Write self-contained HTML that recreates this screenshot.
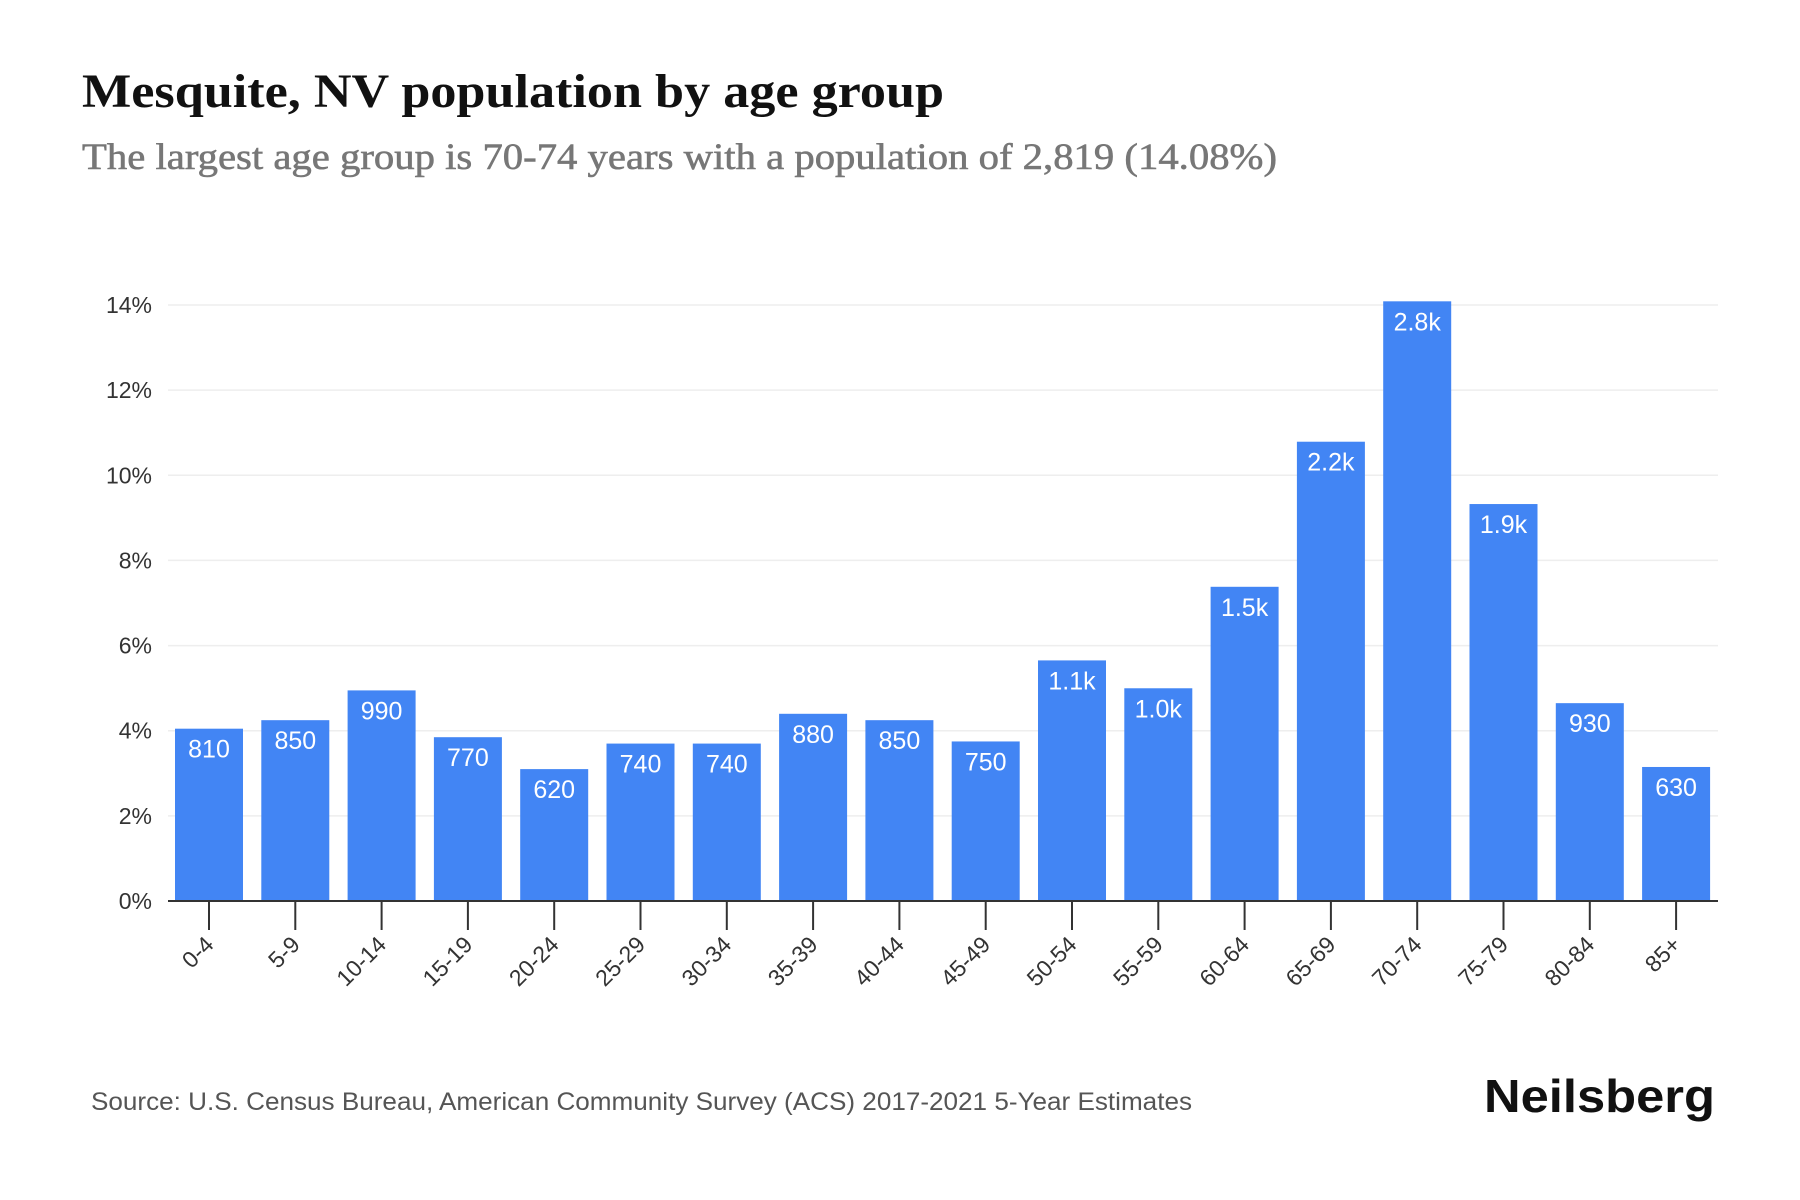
<!DOCTYPE html>
<html><head><meta charset="utf-8"><style>
body{margin:0;background:#fff;width:1800px;height:1200px;overflow:hidden}
svg{display:block}
</style></head><body>
<svg id="chart" width="1800" height="1200" xmlns="http://www.w3.org/2000/svg">
<text x="82" y="107" textLength="862" lengthAdjust="spacingAndGlyphs" font-family="Liberation Serif, serif" font-weight="bold" font-size="48" fill="#111">Mesquite, NV population by age group</text>
<text x="82" y="169" textLength="1195" lengthAdjust="spacingAndGlyphs" font-family="Liberation Serif, serif" font-size="37" fill="#777" stroke="#777" stroke-width="0.6">The largest age group is 70-74 years with a population of 2,819 (14.08%)</text>
<g id="grid"></g><g id="bars"></g><g id="xaxis"></g>
<text x="91" y="1110" textLength="1101" lengthAdjust="spacingAndGlyphs" font-family="Liberation Sans, sans-serif" font-size="25" fill="#555">Source: U.S. Census Bureau, American Community Survey (ACS) 2017-2021 5-Year Estimates</text>
<text x="1484" y="1112" textLength="231" lengthAdjust="spacingAndGlyphs" font-family="Liberation Sans, sans-serif" font-weight="bold" font-size="46" fill="#111">Neilsberg</text>
</svg>
<script>
const categories=["0-4","5-9","10-14","15-19","20-24","25-29","30-34","35-39","40-44","45-49","50-54","55-59","60-64","65-69","70-74","75-79","80-84","85+"];
const populations=[810,850,990,770,620,740,740,880,850,750,1131,1000,1477,2159,2819,1866,930,630];
const yTicks=[0,2,4,6,8,10,12,14];
const NS="http://www.w3.org/2000/svg";
const total=populations.reduce((a,b)=>a+b,0);
const y0=901,pxPer=(901-305)/14;
const yScale=p=>y0-p*pxPer;
const x0=209,step=86.3,bw=68;
const xScale=i=>x0+i*step;
function mk(t,a,parent){const e=document.createElementNS(NS,t);for(const k in a)e.setAttribute(k,a[k]);parent.appendChild(e);return e;}
const grid=document.getElementById('grid'),bars=document.getElementById('bars'),xa=document.getElementById('xaxis');
yTicks.forEach(v=>{
 const y=yScale(v);
 if(v>0){const l=mk('line',{x1:168,x2:1718,y1:y,y2:y,stroke:'#eee','stroke-width':1.5},grid);
 
 }
 const t=mk('text',{x:152,y:y+8,'text-anchor':'end','font-family':'Liberation Sans, sans-serif','font-size':23,fill:'#333'},grid);
 t.textContent=v+'%';
 
 
});
populations.forEach((p,i)=>{
 const pct=p/total*100,cx=xScale(i),top=yScale(pct);
 const r=mk('rect',{x:cx-bw/2,y:top,width:bw,height:y0-top,fill:'#4285f4'},bars);
 
 
 const t=mk('text',{x:cx,y:top+29,'text-anchor':'middle','font-family':'Liberation Sans, sans-serif','font-size':25,fill:'#fff'},bars);
 t.textContent=p>=1000?(p/1000).toFixed(1)+'k':String(p);
 
 
 const tk=mk('line',{x1:cx,x2:cx,y1:y0,y2:930,stroke:'#333','stroke-width':2},xa);
 
 
 const lb=mk('text',{x:cx+6,y:946,'text-anchor':'end','font-family':'Liberation Sans, sans-serif','font-size':23,fill:'#333',transform:`rotate(-45 ${cx+6} 946)`},xa);
 lb.textContent=categories[i];
 
 
});
const ax=mk('line',{x1:168,x2:1718,y1:y0,y2:y0,stroke:'#333','stroke-width':2},xa);


</script>
</body></html>
